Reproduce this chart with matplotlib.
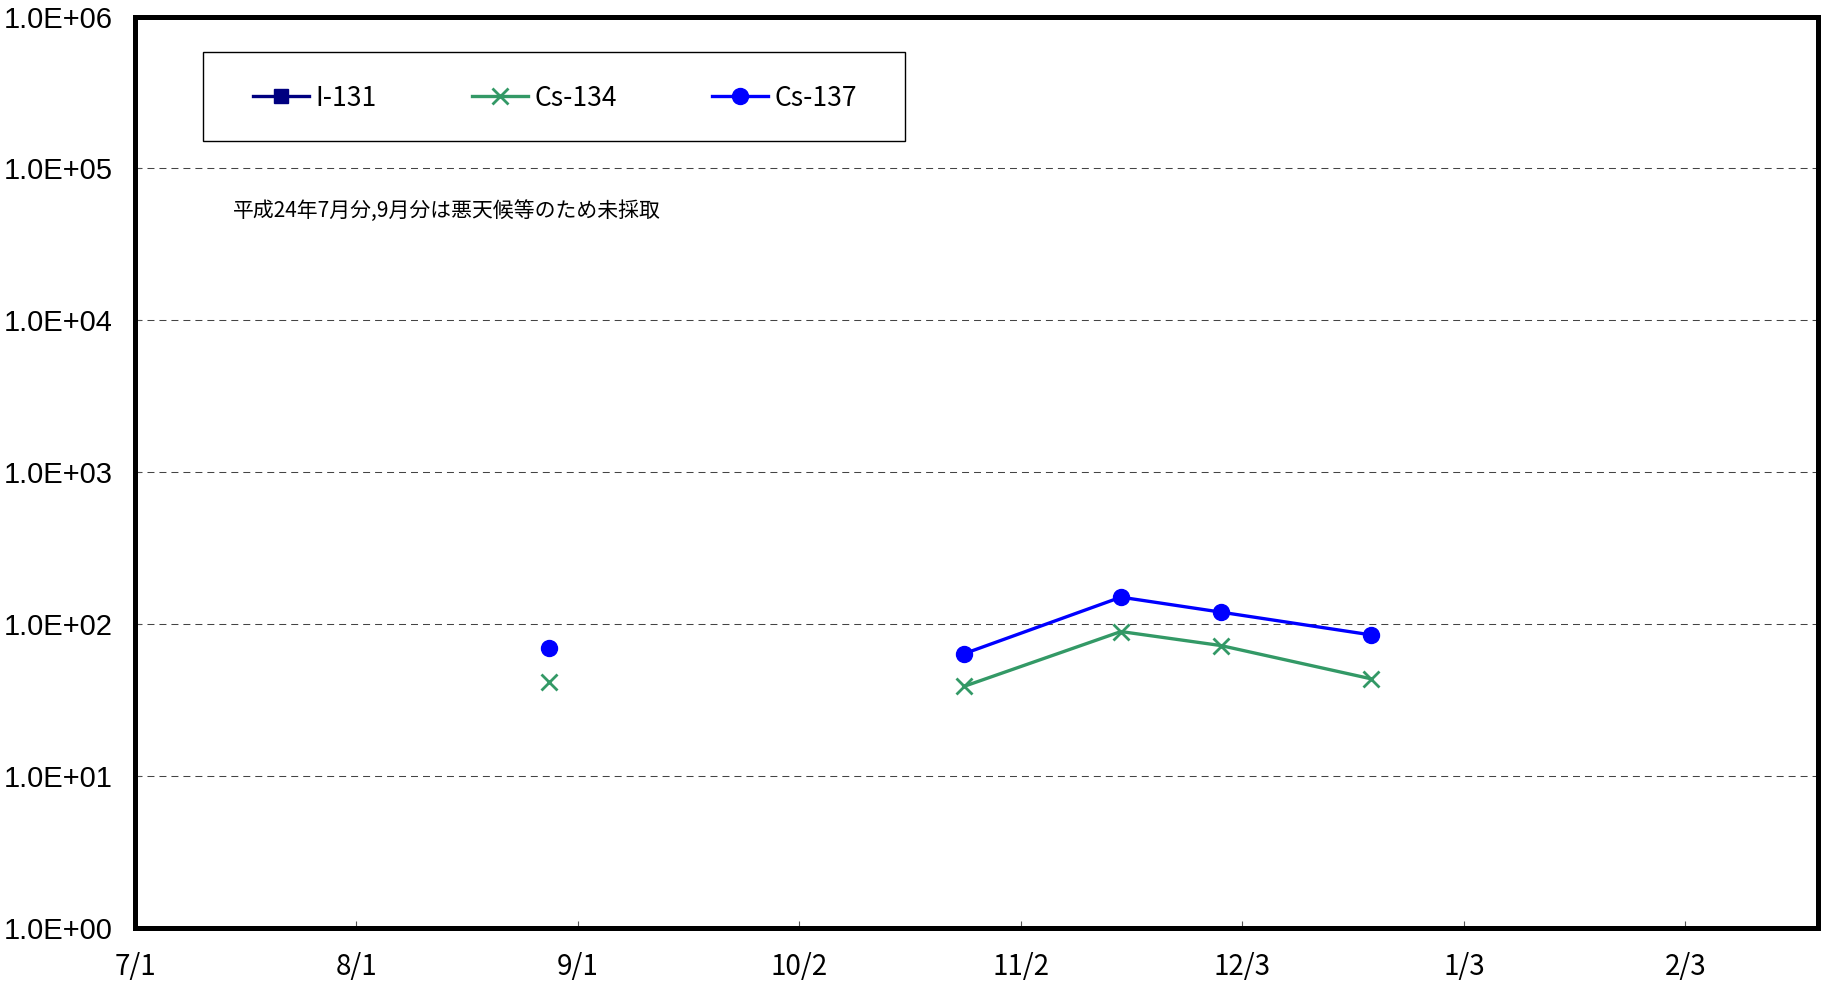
import numpy as np
import pandas as pd
import matplotlib
matplotlib.use("Agg")
from matplotlib import pyplot as plt
from matplotlib.ticker import FixedLocator, FuncFormatter, NullLocator
from matplotlib.patches import Rectangle
import matplotlib.dates as mdates

# sampling dates (Sept. not sampled -> gap)
dates = pd.to_datetime(['2012-08-28', '2012-09-27', '2012-10-25',
                        '2012-11-16', '2012-11-30', '2012-12-21'])
i131 = [np.nan, np.nan, np.nan, np.nan, np.nan, np.nan]
cs134 = [41.5, np.nan, 38.9, 89.4, 72.3, 43.7]
cs137 = [69.8, np.nan, 63.8, 150.6, 120.0, 85.0]

tick_dates = pd.date_range('2012-07-01', periods=8, freq='31D')
note = '平成24年7月分,9月分は悪天候等のため未採取'

W, H = 1821, 984
fig = plt.figure(figsize=(W/100, H/100), dpi=100)
ax = fig.add_axes([135/W, 1-928/H, (1817.5-135)/W, (928-16.5)/H])

jp = ['Noto Sans CJK JP', 'DejaVu Sans']

ax.plot(dates, i131, color='#000080', marker='s', ms=10, lw=2.4, label='I-131')
ax.plot(dates, cs134, color='#339966', marker='x', ms=11, mew=2, lw=2.4,
        label='Cs-134', zorder=3)
ax.plot(dates, cs137, color='#0000ff', marker='o', ms=11.5, lw=2.4,
        label='Cs-137', zorder=4)

ax.set_yscale('log')
ax.set_ylim(1, 1e6)
ax.yaxis.set_major_locator(FixedLocator([10.0**k for k in range(7)]))
ax.yaxis.set_minor_locator(NullLocator())
ax.yaxis.set_major_formatter(FuncFormatter(lambda v, p: '1.0E+%02d' % round(np.log10(v))))

x0 = mdates.date2num(pd.Timestamp('2012-07-01'))
ax.set_xlim(x0, x0 + 235.5)
ax.xaxis.set_major_locator(FixedLocator(mdates.date2num(tick_dates)))
ax.xaxis.set_minor_locator(NullLocator())
ax.xaxis.set_major_formatter(FuncFormatter(
    lambda v, p: '%d/%d' % (mdates.num2date(v).month, mdates.num2date(v).day)))

ax.grid(True, axis='y', color='#444444', lw=0.75, linestyle=(0, (6.7, 4.8)))
ax.set_axisbelow(True)

ax.tick_params(axis='x', direction='in', length=5, width=0.8, color='#555555',
               pad=17, labelsize=20)
ax.tick_params(axis='y', direction='in', length=4, width=0.8, color='#555555',
               pad=16, labelsize=21)
for lab in ax.get_xticklabels():
    lab.set_family(jp)
for lab in ax.get_yticklabels():
    lab.set_family('Liberation Sans')

for s in ax.spines.values():
    s.set_linewidth(3.6)
    s.set_color('black')

# legend box
box = Rectangle((203/W, 1-141/H), 702/W, 89/H, transform=fig.transFigure,
                facecolor='white', edgecolor='black', lw=1, zorder=5, clip_on=False)
ax.add_patch(box)
leg = ax.legend(loc='center left', bbox_to_anchor=(253/W, 1-98/H),
                bbox_transform=fig.transFigure, ncol=3, frameon=False,
                borderpad=0, borderaxespad=0, handlelength=2.12, handletextpad=0.25,
                columnspacing=3.6, prop={'family': jp, 'size': 19})
leg.set_zorder(6)

fig.text(233/W, 1-211/H, note, family=jp, fontsize=15, va='center', ha='left')

fig.savefig('out.png', dpi=100)
